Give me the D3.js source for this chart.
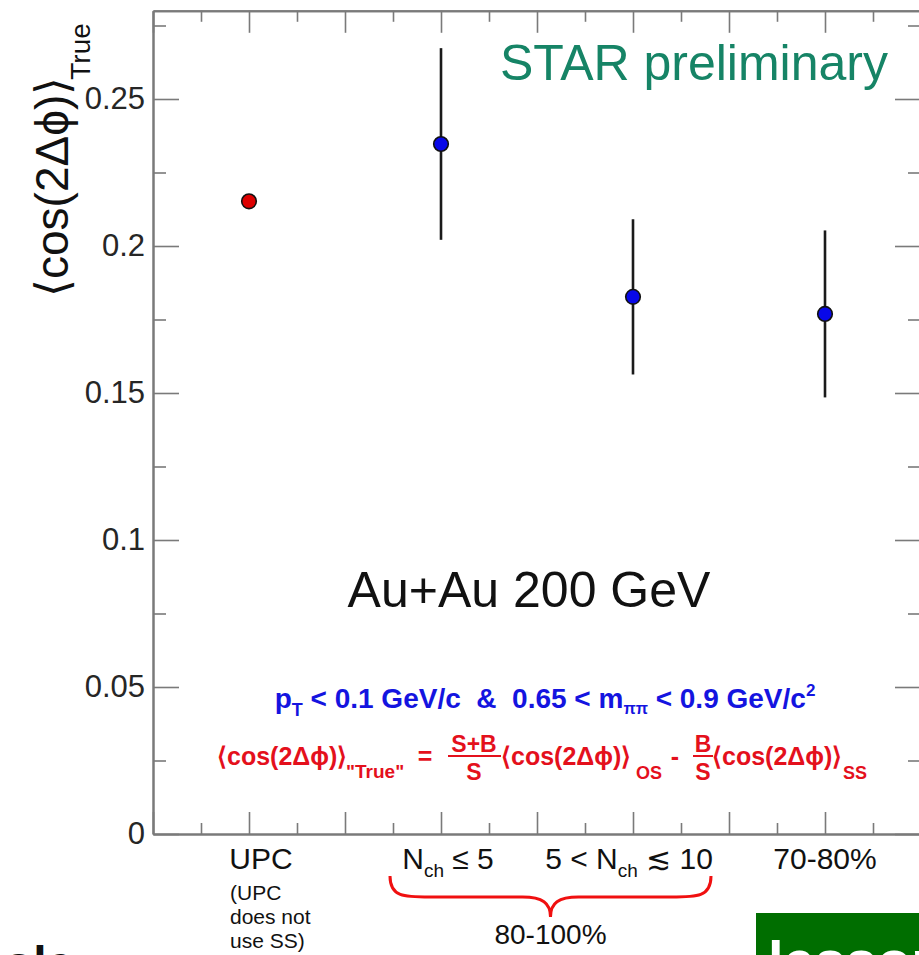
<!DOCTYPE html>
<html>
<head>
<meta charset="utf-8">
<script src="https://cdn.jsdelivr.net/npm/d3@7"></script>
<style>
  html, body { margin: 0; padding: 0; background: #fff; }
  svg { display: block; font-family: "Liberation Sans", Arial, Helvetica, sans-serif; }
  .pre { white-space: pre; }
</style>
</head>
<body>
<svg id="chart" width="919" height="955"></svg>
<script>
// ---------------- data ----------------
const categories = ["UPC", "Nch<=5", "5<Nch<=10", "70-80%"];
const positions  = [1, 3, 5, 7];
const values     = [0.2152, 0.2347, 0.1827, 0.1769];
const errors     = [0.0010, 0.0326, 0.0264, 0.0284];
const pointColors = ["#dd0000", "#0808e8", "#0808e8", "#0808e8"];
const yMajorTicks = [0, 0.05, 0.1, 0.15, 0.2, 0.25];
const yMinorTicks = [0.025, 0.075, 0.125, 0.175, 0.225, 0.275];
const xMajorTicks = [0, 1, 2, 3, 4, 5, 6, 7, 8];
const xMinorTicks = [0.5, 1.5, 2.5, 3.5, 4.5, 5.5, 6.5, 7.5];

// ---------------- layout ----------------
const svg = d3.select("#chart");
const pLeft = 153, pRight = 921, pTop = 10.8, pBottom = 834;
const x = d3.scaleLinear().domain([0, 8]).range([pLeft, pRight]);
const y = d3.scaleLinear().domain([0, 0.28]).range([pBottom, pTop]);
const axisColor = "#7a7a7a";

function styleAxis(g) {
  g.selectAll("path").attr("stroke", axisColor).attr("stroke-width", 2);
  g.selectAll("line").attr("stroke", axisColor).attr("stroke-width", 1.6);
  g.selectAll("text").attr("fill", "#262626").attr("font-size", 31)
    .attr("font-family", "Liberation Sans, Arial, sans-serif");
}
const fmt = d => d === 0 ? "0" : String(+d.toFixed(2));

// left axis
svg.append("g").attr("transform", `translate(${pLeft},0)`)
  .call(d3.axisLeft(y).tickValues(yMajorTicks).tickSizeInner(-26).tickSizeOuter(0).tickPadding(8).tickFormat(fmt))
  .call(styleAxis);
svg.append("g").attr("transform", `translate(${pLeft},0)`)
  .call(d3.axisLeft(y).tickValues(yMinorTicks).tickSizeInner(-13).tickSizeOuter(0).tickFormat(""))
  .call(styleAxis);
// right axis
svg.append("g").attr("transform", `translate(${pRight},0)`)
  .call(d3.axisRight(y).tickValues(yMajorTicks).tickSizeInner(-26).tickSizeOuter(0).tickFormat(""))
  .call(styleAxis);
svg.append("g").attr("transform", `translate(${pRight},0)`)
  .call(d3.axisRight(y).tickValues(yMinorTicks).tickSizeInner(-13).tickSizeOuter(0).tickFormat(""))
  .call(styleAxis);
// bottom axis
svg.append("g").attr("transform", `translate(0,${pBottom})`)
  .call(d3.axisBottom(x).tickValues(xMajorTicks).tickSizeInner(-22).tickSizeOuter(0).tickFormat(""))
  .call(styleAxis);
svg.append("g").attr("transform", `translate(0,${pBottom})`)
  .call(d3.axisBottom(x).tickValues(xMinorTicks).tickSizeInner(-11).tickSizeOuter(0).tickFormat(""))
  .call(styleAxis);
// top axis
svg.append("g").attr("transform", `translate(0,${pTop})`)
  .call(d3.axisTop(x).tickValues(xMajorTicks).tickSizeInner(-22).tickSizeOuter(0).tickFormat(""))
  .call(styleAxis);
svg.append("g").attr("transform", `translate(0,${pTop})`)
  .call(d3.axisTop(x).tickValues(xMinorTicks).tickSizeInner(-11).tickSizeOuter(0).tickFormat(""))
  .call(styleAxis);

// ---------------- data marks ----------------
const pts = positions.map((p, i) => ({p, v: values[i], e: errors[i], c: pointColors[i]}));
svg.append("g").selectAll("line").data(pts).join("line")
  .attr("x1", d => x(d.p)).attr("x2", d => x(d.p))
  .attr("y1", d => y(d.v - d.e)).attr("y2", d => y(d.v + d.e))
  .attr("stroke", "#1a1a1a").attr("stroke-width", 2.6);
svg.append("g").selectAll("circle").data(pts).join("circle")
  .attr("cx", d => x(d.p)).attr("cy", d => y(d.v)).attr("r", 7.3)
  .attr("fill", d => d.c).attr("stroke", "#111").attr("stroke-width", 1.6);

// ---------------- y label ----------------
const yl = svg.append("text").attr("transform", "translate(68,297) rotate(-90)")
  .attr("font-size", 46).attr("fill", "#111");
yl.append("tspan").text("\u27E8cos(2\u0394\u03D5)\u27E9");
yl.append("tspan").attr("font-size", 28).attr("dx", -3).attr("dy", 22).text("True");

// ---------------- titles ----------------
svg.append("text").attr("x", 888).attr("y", 80).attr("text-anchor", "end")
  .attr("font-size", 50).attr("fill", "#168466").text("STAR preliminary");
svg.append("text").attr("x", 529).attr("y", 607).attr("text-anchor", "middle")
  .attr("font-size", 50).attr("fill", "#111").text("Au+Au 200 GeV");

// blue cut line
const bl = svg.append("text").attr("class", "pre").attr("x", 545).attr("y", 708).attr("text-anchor", "middle")
  .attr("font-size", 28).attr("font-weight", "bold").attr("fill", "#1414e0");
bl.append("tspan").text("p");
bl.append("tspan").attr("font-size", 18).attr("dy", 8).text("T");
bl.append("tspan").attr("dy", -8).text(" < 0.1 GeV/c  &  0.65 < m");
bl.append("tspan").attr("font-size", 16).attr("dy", 6).text("\u03C0\u03C0");
bl.append("tspan").attr("dy", -6).text(" < 0.9 GeV/c");
bl.append("tspan").attr("font-size", 17).attr("dy", -12).text("2");

// red formula
const red = "#e4101c";
const fg = svg.append("g").attr("fill", red).attr("font-weight", "bold");
function put(t, xx, yy, size, anchor) {
  return fg.append("text").attr("x", xx).attr("y", yy).attr("font-size", size)
    .attr("text-anchor", anchor || "start").text(t);
}
const br = "\u27E8cos(2\u0394\u03D5)\u27E9";
put(br, 217, 765, 25);
put("\"True\"", 346, 778, 19);
put("=", 425, 765, 25, "middle");
put("S+B", 474, 752, 23, "middle");
fg.append("line").attr("x1", 448).attr("x2", 501).attr("y1", 756).attr("y2", 756).attr("stroke", red).attr("stroke-width", 2);
put("S", 474, 780, 23, "middle");
put(br, 501, 765, 25);
put("OS", 636, 779, 18);
put("-", 675, 765, 25, "middle");
put("B", 703, 752, 23, "middle");
fg.append("line").attr("x1", 693).attr("x2", 713).attr("y1", 756).attr("y2", 756).attr("stroke", red).attr("stroke-width", 2);
put("S", 703, 780, 23, "middle");
put(br, 712, 765, 25);
put("SS", 843, 779, 18);

// ---------------- category labels ----------------
const labelShift = [12, 7, -4, 0];
const lab = svg.append("g").attr("fill", "#111").attr("font-size", 30);
lab.append("text").attr("x", x(positions[0]) + labelShift[0]).attr("y", 869).attr("text-anchor", "middle").text("UPC");
const l1 = lab.append("text").attr("x", x(positions[1]) + labelShift[1]).attr("y", 869).attr("text-anchor", "middle");
l1.append("tspan").text("N");
l1.append("tspan").attr("font-size", 19).attr("dy", 8).text("ch");
l1.append("tspan").attr("dy", -8).text(" \u2264 5");
const l2 = lab.append("text").attr("x", x(positions[2]) + labelShift[2]).attr("y", 869).attr("text-anchor", "middle");
l2.append("tspan").text("5 < N");
l2.append("tspan").attr("font-size", 19).attr("dy", 8).text("ch");
l2.append("tspan").attr("dy", -8).text(" \u2272 10");
lab.append("text").attr("x", x(positions[3]) + labelShift[3]).attr("y", 869).attr("text-anchor", "middle").text("70-80%");

const note = svg.append("g").attr("fill", "#111").attr("font-size", 21);
note.append("text").attr("x", 230).attr("y", 900).text("(UPC");
note.append("text").attr("x", 230).attr("y", 924).text("does not");
note.append("text").attr("x", 230).attr("y", 948).text("use SS)");

// brace
const bx0 = 390, bx1 = 711, bxm = (bx0 + bx1) / 2, by0 = 876, by1 = 897, by2 = 917;
svg.append("path")
  .attr("d", `M${bx0},${by0} C${bx0},${by1} ${bx0+14},${by1} ${bx0+40},${by1} L${bxm-28},${by1} C${bxm-8},${by1} ${bxm},${by1+6} ${bxm},${by2}
              C${bxm},${by1+6} ${bxm+8},${by1} ${bxm+28},${by1} L${bx1-40},${by1} C${bx1-14},${by1} ${bx1},${by1} ${bx1},${by0}`)
  .attr("fill", "none").attr("stroke", "#f01010").attr("stroke-width", 3);
svg.append("text").attr("x", bxm).attr("y", 944).attr("text-anchor", "middle")
  .attr("font-size", 28).attr("fill", "#111").text("80-100%");

// slide remnants at the bottom edge (cut off in the reference as well)
svg.append("rect").attr("x", 756).attr("y", 913).attr("width", 170).attr("height", 60).attr("fill", "#006e00");
svg.append("text").attr("x", 768).attr("y", 980).attr("font-size", 56).attr("font-weight", "bold")
  .attr("fill", "#fff").text("lessons");
svg.append("text").attr("x", 4).attr("y", 980).attr("font-size", 48).attr("font-weight", "bold")
  .attr("fill", "#111").text("ole");
</script>
</body>
</html>
